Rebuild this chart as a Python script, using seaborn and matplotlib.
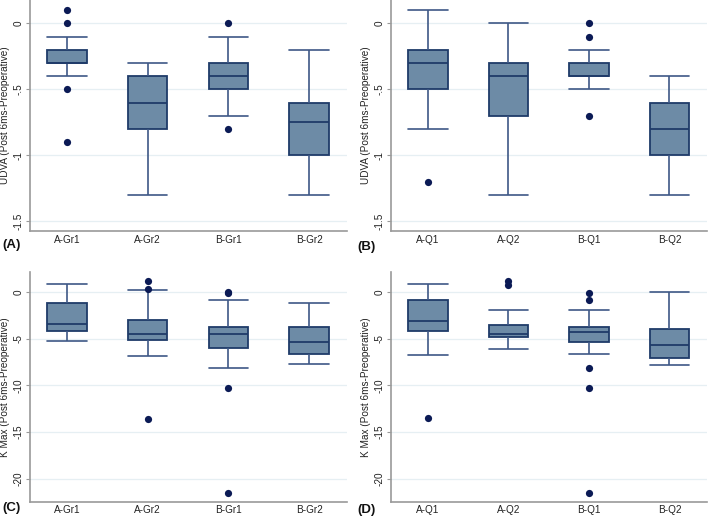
"""
Boxplots of UDVA and K Max change (post 6 months minus preoperative)
for the two groupings, drawn as a 2x2 grid in Stata style.
"""

import pandas as pd
import matplotlib
matplotlib.use("Agg")
import matplotlib.pyplot as plt
import seaborn as sns

# Box summaries: lower whisker, Q1, median, Q3, upper whisker
GR_GROUPS = ["A-Gr1", "A-Gr2", "B-Gr1", "B-Gr2"]
Q_GROUPS = ["A-Q1", "A-Q2", "B-Q1", "B-Q2"]

udva_gr_lo = [-0.4, -1.3, -0.7, -1.3]
udva_gr_q1 = [-0.3, -0.8, -0.5, -1.0]
udva_gr_med = [-0.3, -0.6, -0.4, -0.75]
udva_gr_q3 = [-0.2, -0.4, -0.3, -0.6]
udva_gr_hi = [-0.1, -0.3, -0.1, -0.2]
udva_gr_out = [[0.1, 0.0, -0.5, -0.9], [], [0.0, -0.8], []]

udva_q_lo = [-0.8, -1.3, -0.5, -1.3]
udva_q_q1 = [-0.5, -0.7, -0.4, -1.0]
udva_q_med = [-0.3, -0.4, -0.4, -0.8]
udva_q_q3 = [-0.2, -0.3, -0.3, -0.6]
udva_q_hi = [0.1, 0.0, -0.2, -0.4]
udva_q_out = [[-1.2], [], [0.0, -0.1, -0.7], []]

kmax_gr_lo = [-5.2, -6.8, -8.1, -7.65]
kmax_gr_q1 = [-4.2, -5.1, -6.0, -6.6]
kmax_gr_med = [-3.45, -4.5, -4.5, -5.35]
kmax_gr_q3 = [-1.2, -3.0, -3.75, -3.7]
kmax_gr_hi = [0.85, 0.25, -0.8, -1.2]
kmax_gr_out = [[], [1.2, 0.3, -13.55], [0.0, -0.1, -10.25, -21.55], []]

kmax_q_lo = [-6.75, -6.1, -6.6, -7.85]
kmax_q_q1 = [-4.2, -4.85, -5.3, -7.1]
kmax_q_med = [-3.1, -4.45, -4.3, -5.7]
kmax_q_q3 = [-0.85, -3.5, -3.7, -4.0]
kmax_q_hi = [0.85, -1.95, -1.9, 0.0]
kmax_q_out = [[-13.5], [1.25, 0.8], [-0.1, -0.8, -8.1, -10.25, -21.5], []]

UDVA_TICKS = [0, -0.5, -1, -1.5]
UDVA_TICK_LABELS = ["0", "-.5", "-1", "-1.5"]
KMAX_TICKS = [0, -5, -10, -15, -20]
KMAX_TICK_LABELS = ["0", "-5", "-10", "-15", "-20"]

FILL = "#6d8ba6"
EDGE = "#1f3b69"
WHISKER = "#3e5886"
DOT = "#0b1a55"
GRID = "#e6eff3"
SPINE = "#9a9a9a"
TEXT = "#222222"

sns.set_theme(style="white")
plt.rcParams["font.family"] = ["Liberation Sans", "DejaVu Sans"]


def box_frame(groups, lo, q1, med, q3, hi):
    # seven values per group reproduce the quartiles exactly with linear percentiles
    rows = []
    for g, a, b, c, d, e in zip(groups, lo, q1, med, q3, hi):
        for v in [a, b, b, c, d, d, e]:
            rows.append({"group": g, "value": v})
    return pd.DataFrame(rows)


def outlier_frame(groups, outs):
    rows = [{"group": g, "value": v} for g, vals in zip(groups, outs) for v in vals]
    return pd.DataFrame(rows, columns=["group", "value"])


def draw_panel(ax, groups, stats, outs, ticks, tick_labels, ylim, ylabel):
    data = box_frame(groups, *stats)
    sns.boxplot(
        data=data, x="group", y="value", order=groups, ax=ax,
        whis=(0, 100), width=0.49, color=FILL, saturation=1,
        showfliers=False,
        boxprops=dict(facecolor=FILL, edgecolor=EDGE, linewidth=1.3),
        medianprops=dict(color=EDGE, linewidth=1.3),
        whiskerprops=dict(color=WHISKER, linewidth=1.2),
        capprops=dict(color=WHISKER, linewidth=1.2),
    )
    # caps span the full box width, as in Stata
    for line in ax.lines:
        xs = line.get_xdata()
        if len(xs) == 2 and xs[0] != xs[1] and line.get_color() == WHISKER:
            mid = (xs[0] + xs[1]) / 2
            line.set_xdata([mid - 0.245, mid + 0.245])
    odf = outlier_frame(groups, outs)
    if len(odf):
        sns.stripplot(
            data=odf, x="group", y="value", order=groups, ax=ax,
            jitter=False, color=DOT, size=5.2, linewidth=0, zorder=5,
        )
    ax.set_xlim(-0.46, 3.47)
    ax.set_ylim(*ylim)
    ax.set_yticks(ticks)
    ax.set_yticklabels(tick_labels, rotation=90, va="center", fontsize=7.2, color=TEXT)
    ax.tick_params(axis="x", labelsize=7.2, colors=TEXT, length=0, pad=2.5)
    ax.tick_params(axis="y", length=3, width=0.8, color=SPINE, pad=1.5, left=True)
    for t in ticks:
        ax.axhline(t, color=GRID, linewidth=0.9, zorder=0)
    ax.set_xlabel("")
    ax.set_ylabel(ylabel, fontsize=7.2, color=TEXT)
    # the label's anchor is its right-hand edge once rotated
    ax.yaxis.set_label_coords(-0.064, 0.5)
    for side in ["top", "right"]:
        ax.spines[side].set_visible(False)
    for side in ["left", "bottom"]:
        ax.spines[side].set_color(SPINE)
        ax.spines[side].set_linewidth(1.2)


fig = plt.figure(figsize=(7.09, 5.17), dpi=100)
ax_a = fig.add_axes([0.0423, 0.553, 0.447, 0.447])
ax_b = fig.add_axes([0.5515, 0.553, 0.446, 0.447])
ax_c = fig.add_axes([0.0423, 0.029, 0.447, 0.445])
ax_d = fig.add_axes([0.5515, 0.029, 0.446, 0.445])

udva_label = "UDVA (Post 6ms-Preoperative)"
kmax_label = "K Max (Post 6ms-Preoperative)"

draw_panel(ax_a, GR_GROUPS, [udva_gr_lo, udva_gr_q1, udva_gr_med, udva_gr_q3, udva_gr_hi],
           udva_gr_out, UDVA_TICKS, UDVA_TICK_LABELS, (-1.573, 0.177), udva_label)
draw_panel(ax_b, Q_GROUPS, [udva_q_lo, udva_q_q1, udva_q_med, udva_q_q3, udva_q_hi],
           udva_q_out, UDVA_TICKS, UDVA_TICK_LABELS, (-1.573, 0.177), udva_label)
draw_panel(ax_c, GR_GROUPS, [kmax_gr_lo, kmax_gr_q1, kmax_gr_med, kmax_gr_q3, kmax_gr_hi],
           kmax_gr_out, KMAX_TICKS, KMAX_TICK_LABELS, (-22.5, 2.17), kmax_label)
draw_panel(ax_d, Q_GROUPS, [kmax_q_lo, kmax_q_q1, kmax_q_med, kmax_q_q3, kmax_q_hi],
           kmax_q_out, KMAX_TICKS, KMAX_TICK_LABELS, (-22.5, 2.17), kmax_label)

# panel tags
tag_style = dict(fontsize=9.5, fontweight="bold", color="#111111", ha="left", va="center")
fig.text(2 / 709, 1 - 245 / 517, "(A)", **tag_style)
fig.text(357 / 709, 1 - 247 / 517, "(B)", **tag_style)
fig.text(2 / 709, 1 - 508 / 517, "(C)", **tag_style)
fig.text(357 / 709, 1 - 510 / 517, "(D)", **tag_style)

fig.savefig("out.png", dpi=100, facecolor="white")
